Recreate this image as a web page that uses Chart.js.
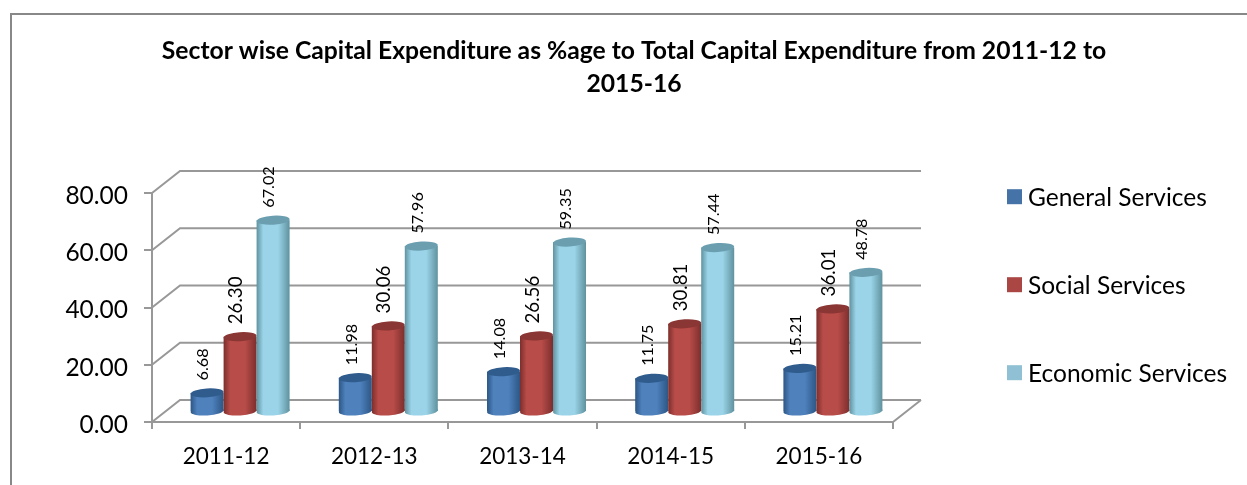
<!DOCTYPE html>
<html><head><meta charset="utf-8">
<style>html,body{margin:0;padding:0;background:#fff}#w{width:1247px;height:485px;position:relative}</style>
<script src="https://cdn.jsdelivr.net/npm/chart.js@4/dist/chart.umd.min.js"></script>
</head><body><div id="w"><canvas id="c" width="1247" height="485"></canvas></div>
<script>
const categories = ['2011-12','2012-13','2013-14','2014-15','2015-16'];
const generalServices = [6.68,11.98,14.08,11.75,15.21];
const socialServices = [26.30,30.06,26.56,30.81,36.01];
const economicServices = [67.02,57.96,59.35,57.44,48.78];
const seriesNames = ['General Services','Social Services','Economic Services'];
const titleLines = ['Sector wise Capital Expenditure as %age to Total Capital Expenditure from 2011-12 to','2015-16'];
const FONT = 'Lato, Carlito, sans-serif';
const L = 152, R = 893, T = 193, B = 422;
const BACK = {dx: 28, dy: -22}, BAR = {dx: 14, dy: -10};
const BW = 33;
const shades = [
  {edge:'#2c5685', mid:'#4f81bd', top:'#2f5c8c', key:'#4573a7', size:16.2},
  {edge:'#7c2e2c', mid:'#b84c49', top:'#8a3634', key:'#aa4643', size:18.7},
  {edge:'#5f929f', mid:'#9bd4e8', top:'#6b9fb0', key:'#8fc0d3', size:16.2}
];
function grad(ctx){
  const c = ctx.chart, s = c.scales.x, h = shades[ctx.datasetIndex];
  if(!s || ctx.dataIndex === undefined) return h.mid;
  const cx = s.getPixelForValue(ctx.dataIndex) + (ctx.datasetIndex-1)*BW;
  if(!Number.isFinite(cx)) return h.mid;
  const g = c.ctx.createLinearGradient(cx-BW/2,0,cx+BW/2,0);
  g.addColorStop(0,h.edge); g.addColorStop(.2,h.mid); g.addColorStop(.65,h.mid); g.addColorStop(1,h.edge);
  return g;
}
const scene = {
  id:'scene',
  beforeDatasetsDraw(c){
    const x = c.ctx, y = c.scales.y;
    x.save(); x.lineWidth=2;
    x.beginPath(); x.moveTo(11,485); x.lineTo(11,14); x.lineTo(1247,14); x.strokeStyle='#888'; x.stroke();
    x.strokeStyle='#989898';
    y.ticks.forEach(t=>{
      const p = y.getPixelForValue(t.value);
      x.beginPath(); x.moveTo(L,p); x.lineTo(L+BACK.dx,p+BACK.dy); x.lineTo(R+BACK.dx,p+BACK.dy); x.stroke();
    });
    x.beginPath(); x.moveTo(L,B); x.lineTo(R,B); x.lineTo(R+BACK.dx,B+BACK.dy); x.stroke();
    x.restore();
    // paint series left to right, so each cylinder overlaps the one before it
    c.data.datasets.forEach((d,di)=>{
      const meta = c.getDatasetMeta(di), h = shades[di];
      x.save(); x.translate(BAR.dx,BAR.dy);
      meta.data.forEach((b,i)=>{
        x.fillStyle = grad({chart:c,dataIndex:i,datasetIndex:di});
        x.beginPath(); x.ellipse(b.x,b.base,b.width/2,4.5,-0.06,0,Math.PI*2); x.fill();
        b.draw(x);
        x.fillStyle = h.top;
        x.beginPath(); x.ellipse(b.x,b.y,b.width/2,4.5,-0.06,0,Math.PI*2); x.fill();
      });
      x.restore();
    });
  },
  beforeDatasetDraw(){ return false; },
  afterDatasetsDraw(c){
    const x = c.ctx;
    c.data.datasets.forEach((d,di)=>{
      c.getDatasetMeta(di).data.forEach((b,i)=>{
        x.save();
        x.translate(b.x+BAR.dx-4, b.y+BAR.dy-12.5);
        x.rotate(-Math.PI/2);
        x.fillStyle='#000'; x.font=shades[di].size+'px '+FONT;
        x.textAlign='left'; x.textBaseline='middle';
        x.fillText(d.data[i].toFixed(2),0,0);
        x.restore();
      });
    });
    seriesNames.forEach((n,i)=>{
      const cy = 196.7 + i*88;
      x.fillStyle=shades[i].key; x.fillRect(1007,cy-7.5,15,15);
      x.fillStyle='#000'; x.font='24.5px '+FONT; x.textAlign='left'; x.textBaseline='middle';
      x.fillText(n,1028,cy+1);
    });
  }
};
new Chart(document.getElementById('c'),{
  type:'bar',
  data:{labels:categories,datasets:[
    {label:seriesNames[0],data:generalServices,backgroundColor:grad,borderWidth:0},
    {label:seriesNames[1],data:socialServices,backgroundColor:grad,borderWidth:0},
    {label:seriesNames[2],data:economicServices,backgroundColor:grad,borderWidth:0}
  ]},
  options:{
    responsive:false,animation:false,
    datasets:{bar:{categoryPercentage:99/148.2,barPercentage:1}},
    layout:{padding:{left:0,right:1247-R,top:0,bottom:0}},
    plugins:{
      legend:{display:false},tooltip:{enabled:false},
      title:{display:true,text:titleLines,color:'#000',align:'center',font:{family:FONT,size:24.7,weight:'bold',lineHeight:1.35},padding:{top:34.5,bottom:0}}
    },
    scales:{
      y:{min:0,max:80,
        ticks:{stepSize:20,color:'#000',padding:16,labelOffset:3,font:{family:FONT,size:24.5},callback:v=>v.toFixed(2)},
        grid:{drawOnChartArea:false,color:'#989898',lineWidth:2,tickLength:8},
        border:{color:'#989898',width:2},
        afterFit(s){s.width=L;}},
      x:{ticks:{color:'#000',padding:14,font:{family:FONT,size:22.5}},
        grid:{drawOnChartArea:false,color:'#989898',lineWidth:2,tickLength:7,offset:true},
        border:{color:'#989898',width:2},
        afterFit(s){s.height=485-B;}}
    }
  },
  plugins:[scene,{id:'pos',afterLayout(c){
    const a=c.chartArea; a.top=T; a.bottom=B; a.height=B-T;
    const y=c.scales.y; y.top=T; y.bottom=B; y.height=B-T; y.configure();
    const xs=c.scales.x; xs.top=B; xs.bottom=485;
    if(c.titleBlock){c.titleBlock.left=21; c.titleBlock.right=1247;}
  }}]
});
</script></body></html>
